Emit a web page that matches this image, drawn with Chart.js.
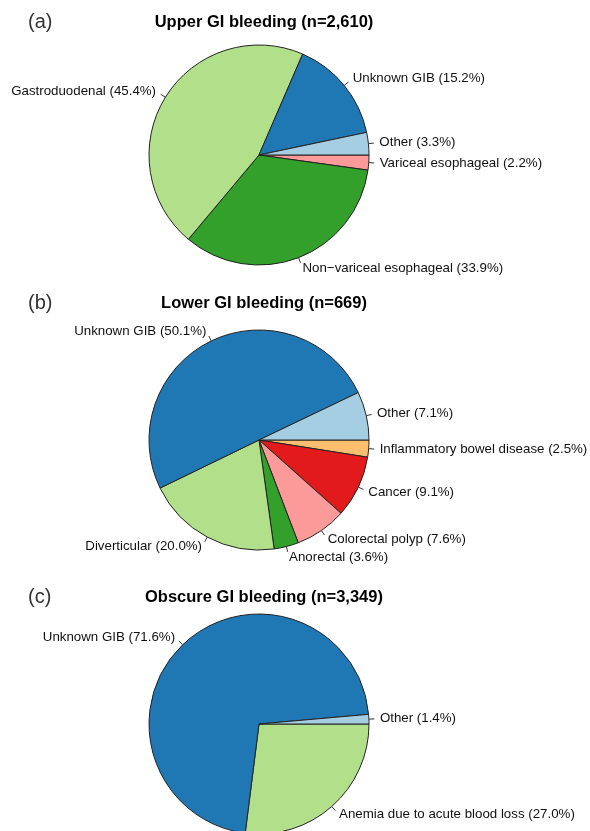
<!DOCTYPE html>
<html>
<head>
<meta charset="utf-8">
<script src="https://cdn.jsdelivr.net/npm/chart.js@4.4.1/dist/chart.umd.min.js"></script>
<style>
  html, body { margin: 0; padding: 0; background: #fff; }
  #figure { position: relative; width: 590px; height: 831px; overflow: hidden; }
  #figure canvas { position: absolute; left: 0; }
</style>
</head>
<body>
<div id="figure">
  <canvas id="upper" width="590" height="300" style="top:0px"></canvas>
  <canvas id="lower" width="590" height="300" style="top:285px"></canvas>
  <canvas id="obscure" width="590" height="300" style="top:569px"></canvas>
</div>
<script>
"use strict";

// Shares per cause (%), in the order R's pie() lays them out: counter-clockwise from 3 o'clock
const upperLabels = ["Other", "Unknown GIB", "Gastroduodenal", "Non\u2212variceal esophageal", "Variceal esophageal"];
const upperValues = [3.3, 15.2, 45.4, 33.9, 2.2];

const lowerLabels = ["Other", "Unknown GIB", "Diverticular", "Anorectal", "Colorectal polyp", "Cancer", "Inflammatory bowel disease"];
const lowerValues = [7.1, 50.1, 20.0, 3.6, 7.6, 9.1, 2.5];

const obscureLabels = ["Other", "Unknown GIB", "Anemia due to acute blood loss"];
const obscureValues = [1.4, 71.6, 27.0];

// RColorBrewer "Paired"
const paired = ["#A6CEE3", "#1F78B4", "#B2DF8A", "#33A02C", "#FB9A99", "#E31A1C", "#FDBF6F"];

const FONT = "'Liberation Sans', Arial, Helvetica, sans-serif";

// Draws R-style slice labels with short leader lines, plus the panel letter and title
const pieText = {
	id: "pieText",
	afterDatasetsDraw(chart, args, opts) {
		const ctx = chart.ctx;
		const meta = chart.getDatasetMeta(0);
		const labels = chart.data.labels;
		const values = chart.data.datasets[0].data;

		ctx.save();
		ctx.strokeStyle = "#333";
		ctx.lineWidth = 1;
		ctx.fillStyle = "#111";
		ctx.font = "13.3px " + FONT;
		ctx.textBaseline = "middle";

		meta.data.forEach(function (arc, i) {
			const p = arc.getProps(["x", "y", "startAngle", "endAngle", "outerRadius"], true);
			const mid = (p.startAngle + p.endAngle) / 2;
			const cos = Math.cos(mid);
			const sin = Math.sin(mid);
			const r = p.outerRadius;

			ctx.beginPath();
			ctx.moveTo(p.x + r * cos, p.y + r * sin);
			ctx.lineTo(p.x + 1.05 * r * cos, p.y + 1.05 * r * sin);
			ctx.stroke();

			ctx.textAlign = cos < 0 ? "right" : "left";
			ctx.fillText(labels[i] + " (" + values[i].toFixed(1) + "%)", p.x + 1.1 * r * cos, p.y + 1.1 * r * sin);
		});

		// panel letter
		ctx.textAlign = "left";
		ctx.fillStyle = "#333";
		ctx.font = "20px " + FONT;
		ctx.fillText(opts.tag, 28, opts.y);

		// title
		ctx.textAlign = "center";
		ctx.fillStyle = "#000";
		ctx.font = "bold 16.5px " + FONT;
		ctx.fillText(opts.title, 264, opts.y);
		ctx.restore();
	},
};

function drawPie(id, labels, values, tag, title, textY) {
	// Chart.js goes clockwise, R goes counter-clockwise, so the order is flipped
	const colors = paired.slice(0, values.length);

	new Chart(document.getElementById(id), {
		type: "pie",
		data: {
			labels: labels.slice().reverse(),
			datasets: [
				{
					data: values.slice().reverse(),
					backgroundColor: colors.slice().reverse(),
					borderColor: "#222",
					borderWidth: 1,
				},
			],
		},
		options: {
			responsive: false,
			animation: false,
			events: [],
			rotation: 90,
			radius: 110,
			layout: { padding: { left: 149, right: 221, top: 45, bottom: 35 } },
			plugins: {
				legend: { display: false },
				tooltip: { enabled: false },
				pieText: { tag: tag, title: title, y: textY },
			},
		},
		plugins: [pieText],
	});
}

drawPie("upper", upperLabels, upperValues, "(a)", "Upper GI bleeding (n=2,610)", 22);
drawPie("lower", lowerLabels, lowerValues, "(b)", "Lower GI bleeding (n=669)", 18);
drawPie("obscure", obscureLabels, obscureValues, "(c)", "Obscure GI bleeding (n=3,349)", 28);
</script>
</body>
</html>
